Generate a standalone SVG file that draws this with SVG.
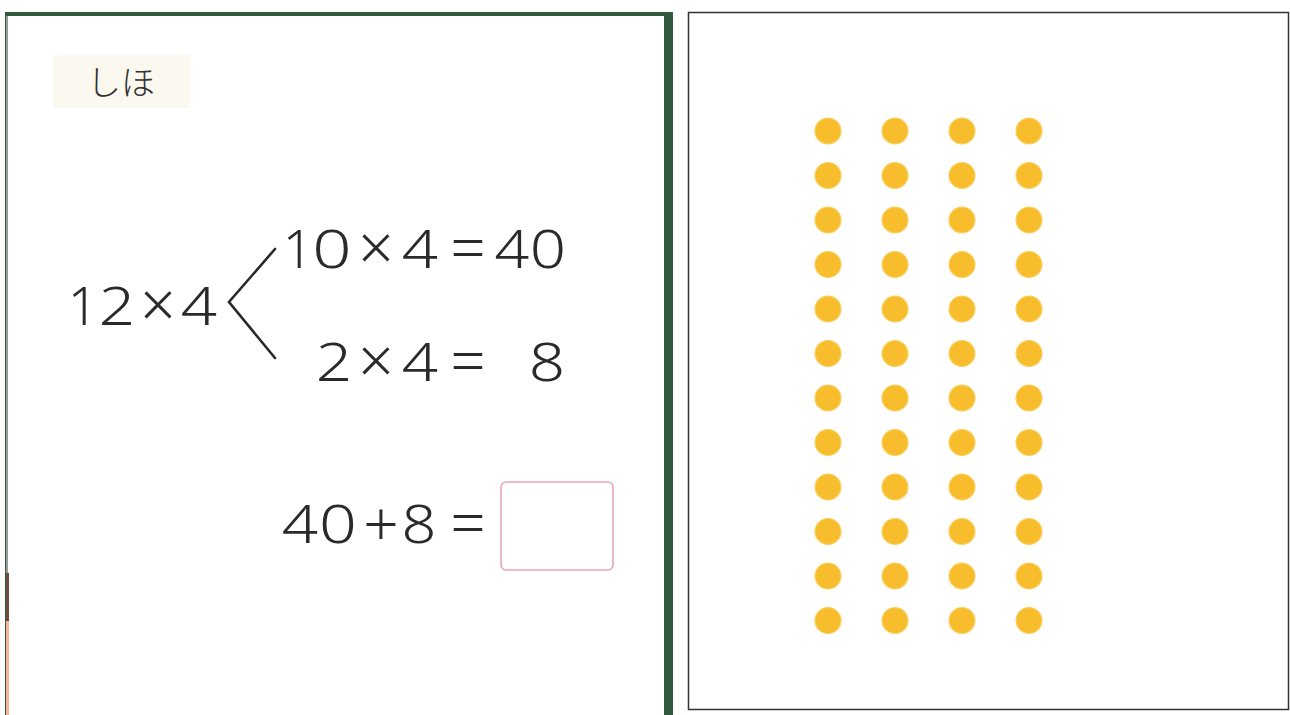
<svg xmlns="http://www.w3.org/2000/svg" width="1290" height="715" viewBox="0 0 1290 715">
<style>
.n{font-family:"Noto Sans","DejaVu Sans",sans-serif;font-weight:300;font-size:53px;fill:#2a2a2a;text-anchor:middle}
.s{font-family:"Noto Sans","DejaVu Sans",sans-serif;font-weight:300;font-size:62px;fill:#2a2a2a;text-anchor:middle}
.dot{fill:#F7BD2C;stroke:#FBD060;stroke-width:1.2}
.br{stroke:#2a2a2a;stroke-width:2.6;fill:none;stroke-linecap:round}
</style>
<rect width="1290" height="715" fill="#ffffff"/>
<g id="left-page">
  <rect x="5" y="12" width="668" height="703" fill="#2f5a3c"/>
  <rect x="8" y="16" width="656" height="699" fill="#ffffff"/>
  <rect x="6" y="16" width="2" height="557" fill="#9a9a9a"/>
  <rect x="6" y="573" width="3" height="48" fill="#6e4a40"/>
  <rect x="6" y="621" width="3" height="94" fill="#f5b497"/>
</g>
<g id="label">
  <rect x="53" y="55" width="137" height="53" fill="#fbf8f0"/>
  <text x="87" y="95" font-family="'Noto Sans CJK JP',sans-serif" font-size="34" font-weight="300" fill="#333">しほ</text>
</g>
<g id="eq-main">
  <text class="n" x="83" y="325">1</text>
  <text class="n" transform="translate(117,325) scale(1.2,1)">2</text>
  <text class="s" x="158" y="327">×</text>
  <text class="n" transform="translate(199,325) scale(1.2,1)">4</text>
</g>
<g id="connectors">
  <polyline class="br" points="275,249 229,302 275,358"/>
</g>
<g id="eq-10">
  <text class="n" x="298" y="268">1</text>
  <text class="n" transform="translate(332,268) scale(1.3,1)">0</text>
  <text class="s" x="376" y="270">×</text>
  <text class="n" transform="translate(420,268) scale(1.2,1)">4</text>
  <text class="s" x="468" y="270">=</text>
  <text class="n" transform="translate(512,268) scale(1.15,1)">4</text>
  <text class="n" transform="translate(548,268) scale(1.2,1)">0</text>
</g>
<g id="eq-2">
  <text class="n" transform="translate(334,381) scale(1.2,1)">2</text>
  <text class="s" x="376" y="383">×</text>
  <text class="n" transform="translate(420,381) scale(1.2,1)">4</text>
  <text class="s" x="468" y="383">=</text>
  <text class="n" transform="translate(547,381) scale(1.2,1)">8</text>
</g>
<g id="eq-sum">
  <text class="n" transform="translate(300,543) scale(1.2,1)">4</text>
  <text class="n" transform="translate(338,543) scale(1.25,1)">0</text>
  <text class="s" x="381" y="546" font-size="68">+</text>
  <text class="n" transform="translate(419,543) scale(1.15,1)">8</text>
  <text class="s" x="468" y="545">=</text>
  <rect x="501" y="482" width="112" height="88" rx="5" fill="#ffffff" stroke="#e6a6bc" stroke-width="1.6"/>
</g>
<g id="right-panel">
  <rect x="688.5" y="12.5" width="600" height="697" fill="#ffffff" stroke="#333" stroke-width="1.5"/>
</g>
<g id="dots">
  <g transform="translate(828,0)">
    <circle class="dot" cx="0" cy="131" r="13"/><circle class="dot" cx="0" cy="175.5" r="13"/><circle class="dot" cx="0" cy="220" r="13"/><circle class="dot" cx="0" cy="264.5" r="13"/><circle class="dot" cx="0" cy="309" r="13"/><circle class="dot" cx="0" cy="353.5" r="13"/><circle class="dot" cx="0" cy="398" r="13"/><circle class="dot" cx="0" cy="442.5" r="13"/><circle class="dot" cx="0" cy="487" r="13"/><circle class="dot" cx="0" cy="531.5" r="13"/><circle class="dot" cx="0" cy="576" r="13"/><circle class="dot" cx="0" cy="620.5" r="13"/>
  </g>
  <g transform="translate(895,0)">
    <circle class="dot" cx="0" cy="131" r="13"/><circle class="dot" cx="0" cy="175.5" r="13"/><circle class="dot" cx="0" cy="220" r="13"/><circle class="dot" cx="0" cy="264.5" r="13"/><circle class="dot" cx="0" cy="309" r="13"/><circle class="dot" cx="0" cy="353.5" r="13"/><circle class="dot" cx="0" cy="398" r="13"/><circle class="dot" cx="0" cy="442.5" r="13"/><circle class="dot" cx="0" cy="487" r="13"/><circle class="dot" cx="0" cy="531.5" r="13"/><circle class="dot" cx="0" cy="576" r="13"/><circle class="dot" cx="0" cy="620.5" r="13"/>
  </g>
  <g transform="translate(962,0)">
    <circle class="dot" cx="0" cy="131" r="13"/><circle class="dot" cx="0" cy="175.5" r="13"/><circle class="dot" cx="0" cy="220" r="13"/><circle class="dot" cx="0" cy="264.5" r="13"/><circle class="dot" cx="0" cy="309" r="13"/><circle class="dot" cx="0" cy="353.5" r="13"/><circle class="dot" cx="0" cy="398" r="13"/><circle class="dot" cx="0" cy="442.5" r="13"/><circle class="dot" cx="0" cy="487" r="13"/><circle class="dot" cx="0" cy="531.5" r="13"/><circle class="dot" cx="0" cy="576" r="13"/><circle class="dot" cx="0" cy="620.5" r="13"/>
  </g>
  <g transform="translate(1029,0)">
    <circle class="dot" cx="0" cy="131" r="13"/><circle class="dot" cx="0" cy="175.5" r="13"/><circle class="dot" cx="0" cy="220" r="13"/><circle class="dot" cx="0" cy="264.5" r="13"/><circle class="dot" cx="0" cy="309" r="13"/><circle class="dot" cx="0" cy="353.5" r="13"/><circle class="dot" cx="0" cy="398" r="13"/><circle class="dot" cx="0" cy="442.5" r="13"/><circle class="dot" cx="0" cy="487" r="13"/><circle class="dot" cx="0" cy="531.5" r="13"/><circle class="dot" cx="0" cy="576" r="13"/><circle class="dot" cx="0" cy="620.5" r="13"/>
  </g>
</g>
</svg>
